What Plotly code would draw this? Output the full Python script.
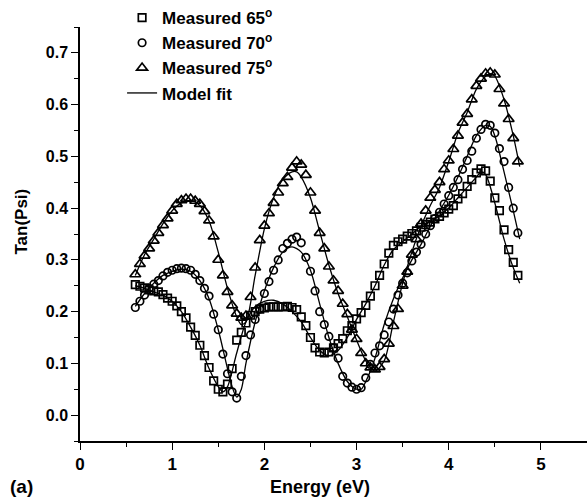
import plotly.graph_objects as go

energy = [0.60, 0.65, 0.70, 0.75, 0.80, 0.85, 0.90, 0.95, 1.00, 1.05, 1.10, 1.15, 1.20, 1.25,
          1.30, 1.35, 1.40, 1.45, 1.50, 1.55, 1.60, 1.65, 1.70, 1.75, 1.80, 1.85, 1.90, 1.95,
          2.00, 2.05, 2.10, 2.15, 2.20, 2.25, 2.30, 2.35, 2.40, 2.45, 2.50, 2.55, 2.60, 2.65,
          2.70, 2.75, 2.80, 2.85, 2.90, 2.95, 3.00, 3.05, 3.10, 3.15, 3.20, 3.25, 3.30, 3.35,
          3.40, 3.45, 3.50, 3.55, 3.60, 3.65, 3.70, 3.75, 3.80, 3.85, 3.90, 3.95, 4.00, 4.05,
          4.10, 4.15, 4.20, 4.25, 4.30, 4.35, 4.40, 4.45, 4.50, 4.55, 4.60, 4.65, 4.70, 4.75]

meas_65 = [0.252, 0.249, 0.246, 0.242, 0.240, 0.238, 0.233, 0.226, 0.220, 0.211, 0.200, 0.188, 0.170, 0.154,
           0.135, 0.115, 0.092, 0.066, 0.050, 0.045, 0.060, 0.090, 0.145, 0.160, 0.178, 0.193, 0.200, 0.205,
           0.207, 0.209, 0.209, 0.209, 0.209, 0.210, 0.208, 0.204, 0.190, 0.173, 0.150, 0.130, 0.122, 0.120,
           0.122, 0.130, 0.138, 0.148, 0.163, 0.173, 0.186, 0.198, 0.212, 0.230, 0.250, 0.270, 0.292, 0.313,
           0.328, 0.335, 0.340, 0.346, 0.351, 0.356, 0.363, 0.368, 0.373, 0.379, 0.384, 0.391, 0.398, 0.405,
           0.418, 0.428, 0.442, 0.455, 0.468, 0.476, 0.472, 0.452, 0.420, 0.395, 0.358, 0.320, 0.295, 0.270]

meas_70 = [0.208, 0.220, 0.232, 0.245, 0.253, 0.260, 0.269, 0.276, 0.280, 0.283, 0.284, 0.283, 0.280, 0.272,
           0.260, 0.245, 0.230, 0.195, 0.165, 0.118, 0.080, 0.045, 0.033, 0.075, 0.115, 0.155, 0.185, 0.205,
           0.235, 0.258, 0.280, 0.300, 0.322, 0.332, 0.340, 0.344, 0.333, 0.305, 0.278, 0.240, 0.200, 0.175,
           0.152, 0.130, 0.110, 0.075, 0.062, 0.054, 0.050, 0.053, 0.072, 0.098, 0.120, 0.134, 0.155, 0.180,
           0.205, 0.232, 0.255, 0.275, 0.298, 0.315, 0.330, 0.350, 0.366, 0.380, 0.392, 0.408, 0.424, 0.440,
           0.455, 0.475, 0.492, 0.510, 0.535, 0.552, 0.562, 0.560, 0.545, 0.515, 0.490, 0.440, 0.400, 0.352]

meas_75 = [0.272, 0.292, 0.308, 0.322, 0.337, 0.352, 0.367, 0.380, 0.395, 0.408, 0.415, 0.418, 0.418, 0.414,
           0.408, 0.394, 0.376, 0.345, 0.300, 0.270, 0.238, 0.212, 0.196, 0.188, 0.192, 0.228, 0.285, 0.338,
           0.366, 0.390, 0.410, 0.430, 0.448, 0.460, 0.478, 0.490, 0.484, 0.464, 0.430, 0.395, 0.352, 0.322,
           0.287, 0.260, 0.240, 0.215, 0.195, 0.165, 0.147, 0.120, 0.100, 0.092, 0.088, 0.093, 0.108, 0.138,
           0.172, 0.205, 0.250, 0.277, 0.310, 0.340, 0.370, 0.395, 0.420, 0.435, 0.450, 0.475, 0.492, 0.514,
           0.540, 0.565, 0.582, 0.610, 0.636, 0.650, 0.660, 0.662, 0.658, 0.630, 0.602, 0.572, 0.535, 0.490]

fit_energy_65 = [0.6, 0.7, 0.8, 0.9, 1.0, 1.1, 1.2, 1.3, 1.4, 1.5, 1.55, 1.6, 1.7, 1.8, 1.9, 2.0, 2.1,
                 2.2, 2.3, 2.4, 2.5, 2.6, 2.7, 2.8, 2.9, 3.0, 3.1, 3.2, 3.3, 3.4, 3.5, 3.6, 3.7, 3.8,
                 3.9, 4.0, 4.1, 4.2, 4.3, 4.35, 4.4, 4.5, 4.6, 4.7, 4.77]
fit_65 = [0.250, 0.245, 0.238, 0.232, 0.220, 0.200, 0.170, 0.135, 0.090, 0.055, 0.045, 0.055, 0.120, 0.180,
          0.210, 0.220, 0.222, 0.215, 0.200, 0.180, 0.150, 0.125, 0.115, 0.125, 0.150, 0.185, 0.215, 0.250,
          0.290, 0.320, 0.335, 0.350, 0.365, 0.375, 0.385, 0.400, 0.420, 0.440, 0.460, 0.470, 0.465, 0.410,
          0.340, 0.285, 0.255]

fit_energy_70 = [0.6, 0.7, 0.8, 0.9, 1.0, 1.1, 1.2, 1.3, 1.4, 1.5, 1.6, 1.65, 1.7, 1.75, 1.8, 1.9, 2.0,
                 2.1, 2.2, 2.3, 2.4, 2.5, 2.6, 2.7, 2.8, 2.9, 3.0, 3.05, 3.1, 3.2, 3.3, 3.4, 3.5, 3.6,
                 3.7, 3.8, 3.9, 4.0, 4.1, 4.2, 4.3, 4.4, 4.45, 4.5, 4.6, 4.7, 4.77]
fit_70 = [0.210, 0.235, 0.255, 0.270, 0.278, 0.282, 0.278, 0.260, 0.225, 0.165, 0.090, 0.055, 0.035, 0.050,
          0.100, 0.180, 0.240, 0.285, 0.315, 0.325, 0.315, 0.280, 0.215, 0.150, 0.100, 0.065, 0.050, 0.050,
          0.065, 0.110, 0.175, 0.225, 0.265, 0.300, 0.330, 0.365, 0.395, 0.425, 0.460, 0.500, 0.540, 0.560,
          0.558, 0.540, 0.470, 0.395, 0.340]

fit_energy_75 = [0.6, 0.7, 0.8, 0.9, 1.0, 1.1, 1.2, 1.3, 1.4, 1.5, 1.6, 1.7, 1.75, 1.8, 1.9, 2.0, 2.1,
                 2.2, 2.3, 2.35, 2.4, 2.5, 2.6, 2.7, 2.8, 2.9, 3.0, 3.1, 3.2, 3.3, 3.4, 3.5, 3.6, 3.7,
                 3.8, 3.9, 4.0, 4.1, 4.2, 4.3, 4.4, 4.45, 4.5, 4.6, 4.7, 4.77]
fit_75 = [0.270, 0.310, 0.340, 0.370, 0.395, 0.410, 0.415, 0.405, 0.375, 0.315, 0.245, 0.190, 0.175, 0.180,
          0.270, 0.360, 0.420, 0.455, 0.470, 0.470, 0.460, 0.420, 0.355, 0.290, 0.235, 0.190, 0.145, 0.105,
          0.085, 0.105, 0.180, 0.255, 0.315, 0.365, 0.405, 0.440, 0.490, 0.545, 0.585, 0.630, 0.655, 0.660,
          0.655, 0.610, 0.540, 0.480]

series_names = ["Measured 65<sup>o</sup>", "Measured 70<sup>o</sup>", "Measured 75<sup>o</sup>"]
fit_name = "Model fit"

FONT = "Arial, 'Liberation Sans', sans-serif"

fig = go.Figure()

fits = [(fit_energy_65, fit_65), (fit_energy_70, fit_70), (fit_energy_75, fit_75)]
for i, (fx, fy) in enumerate(fits):
    fig.add_trace(go.Scatter(
        x=fx, y=fy, mode="lines", line=dict(color="black", width=1.3, shape="spline", smoothing=0.8),
        name=fit_name, showlegend=(i == 0), legendgroup="fit", legendrank=4,
    ))

symbols = ["square-open", "circle-open", "triangle-up-open"]
sizes = [7.5, 7.5, 9.5]
for i, (vals, sym, sz) in enumerate(zip([meas_65, meas_70, meas_75], symbols, sizes)):
    fig.add_trace(go.Scatter(
        x=energy, y=vals, mode="markers",
        marker=dict(symbol=sym, size=sz, color="black", line=dict(color="black", width=1.7)),
        name=series_names[i], legendgroup=f"m{i}", legendrank=i + 1,
    ))

fig.update_layout(
    width=587, height=502,
    margin=dict(l=80, r=0, t=27, b=61),
    paper_bgcolor="white", plot_bgcolor="white",
    font=dict(family=FONT, size=14, color="black"),
    showlegend=True,
    legend=dict(
        x=0.083, y=1.065, xanchor="left", yanchor="top",
        font=dict(family=FONT, size=17, color="black", weight="bold"),
        bgcolor="rgba(0,0,0,0)", traceorder="grouped", tracegroupgap=0,
    ),
    xaxis=dict(
        range=[0, 5.5], tickmode="array", tickvals=[0, 1, 2, 3, 4, 5],
        ticks="outside", ticklen=7, tickwidth=1.3, tickcolor="black",
        showline=True, linecolor="black", linewidth=1.5, showgrid=False, zeroline=False,
        tickfont=dict(family=FONT, size=17, weight="bold"),
        minor=dict(dtick=0.5, ticks="outside", ticklen=4, tickwidth=1.3, tickcolor="black", showgrid=False),
    ),
    yaxis=dict(
        range=[-0.05, 0.75], tickmode="array", tickvals=[0.0, 0.1, 0.2, 0.3, 0.4, 0.5, 0.6, 0.7],
        tickformat=".1f",
        ticks="outside", ticklen=7, tickwidth=1.3, tickcolor="black",
        showline=True, linecolor="black", linewidth=1.5, showgrid=False, zeroline=False,
        tickfont=dict(family=FONT, size=16, weight="bold"),
        minor=dict(dtick=0.05, tick0=0, ticks="outside", ticklen=4, tickwidth=1.3, tickcolor="black", showgrid=False),
    ),
    annotations=[
        dict(text="<b>Tan(Psi)</b>", xref="paper", yref="paper", x=-0.1144, y=0.53,
             xanchor="center", yanchor="middle",
             textangle=-90, showarrow=False, font=dict(family=FONT, size=17)),
        dict(text="<b>Energy (eV)</b>", xref="paper", yref="paper", x=0.473, y=-0.11,
             xanchor="center", yanchor="middle",
             showarrow=False, font=dict(family=FONT, size=18)),
        dict(text="<b>(a)</b>", xref="paper", yref="paper", x=-0.116, y=-0.11,
             xanchor="center", yanchor="middle",
             showarrow=False, font=dict(family=FONT, size=19)),
    ],
)

fig.write_html("out.html")
